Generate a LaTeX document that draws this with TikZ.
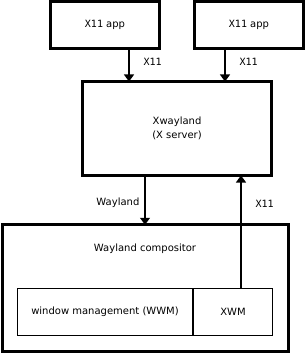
\documentclass[tikz,border=0pt]{standalone}
\usepackage{fontspec}
\setmainfont{DejaVu Sans}
\setmonofont{DejaVu Sans Mono}
\usepackage{tikz}
\usetikzlibrary{arrows.meta,calc}
\definecolor{strich}{HTML}{000000}
\tikzset{
  pfeil/.style={-{Triangle[length=7pt,width=10pt]},strich,line width=1.3pt},
  dick/.style={draw=strich,line width=3pt,inner sep=0pt,outer sep=0pt},
  duenn/.style={draw=strich,line width=1pt,inner sep=0pt,outer sep=0pt},
  txt/.style={inner sep=0pt,font=\fontsize{10}{14}\selectfont,align=center},
}

\begin{document}
\begin{tikzpicture}[x=1pt,y=-1pt]
  \useasboundingbox (0,0) rectangle (307,355);
  % clients
  \node[dick,minimum width=109pt,minimum height=47pt] (appa) at (105,25) {};
  \node[txt] at (105,25) {{\ttfamily X11} app};
  \node[dick,minimum width=109pt,minimum height=47pt] (appb) at (249,25) {};
  \node[txt] at (249,25) {{\ttfamily X11} app};
  % X server
  \node[dick,minimum width=189pt,minimum height=94pt] (xw) at (177,128.5) {};
  \node[txt] (xwtxt) at (177,128) {Xwayland\\(X server)};
  % compositor
  \node[dick,minimum width=285.5pt,minimum height=126.5pt] (comp) at (145.5,288) {};
  \node[txt] (comptxt) at (145,249) {Wayland compositor};
  \node[duenn,minimum width=175pt,minimum height=47pt] (wwm) at (105,312) {};
  \node[txt] at (105,312) {window management (WWM)};
  \node[duenn,minimum width=79pt,minimum height=47pt] (xwm) at (233,312) {};
  \node[txt] at (233,312) {XWM};
  % connectors
  \draw[pfeil] ([xshift=24pt]appa.south) -- ([xshift=24pt]appa.south |- xw.north)
    node[txt,pos=0.4,right=14pt]{\ttfamily X11};
  \draw[pfeil] ([xshift=-24pt]appb.south) -- ([xshift=-24pt]appb.south |- xw.north)
    node[txt,pos=0.4,right=14pt]{\ttfamily X11};
  \draw[pfeil] ([xshift=-32pt]xw.south) -- ([xshift=-32pt]xw.south |- comp.north)
    node[txt,pos=0.55,left=5pt]{Wayland};
  \draw[pfeil] ([xshift=8pt]xwm.north) -- ([xshift=8pt]xwm.north |- xw.south)
    node[txt,pos=0.75,right=14pt]{\ttfamily X11};
\end{tikzpicture}
\end{document}
